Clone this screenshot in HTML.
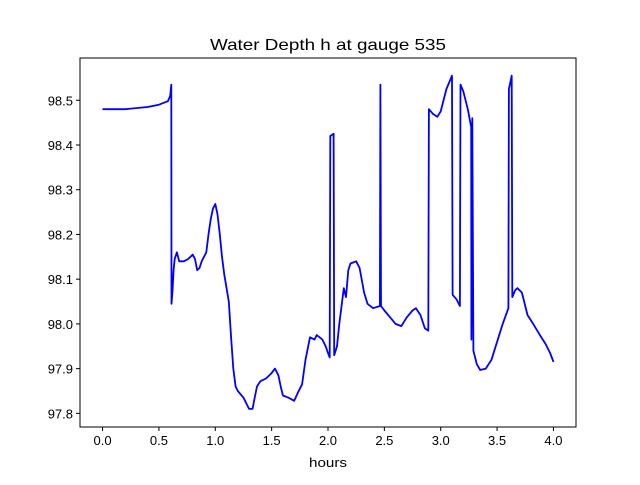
<!DOCTYPE html>
<html><head><meta charset="utf-8"><style>
body{margin:0;background:#fff}
svg text{font-family:"Liberation Sans","DejaVu Sans",sans-serif;fill:#000}
</style></head><body>
<svg id="chart" width="640" height="480" xmlns="http://www.w3.org/2000/svg">
<rect width="640" height="480" fill="#fff"/>
<text x="328" y="50" font-size="16" text-anchor="middle" textLength="236" lengthAdjust="spacingAndGlyphs">Water Depth h at gauge 535</text>
<g id="ticks"></g>
<path id="line" fill="none" stroke="#0000ff" stroke-width="1.8" stroke-linejoin="round"/>
<rect x="80" y="58" width="496" height="369" fill="none" stroke="#000" stroke-width="1"/>
<text x="328" y="467" font-size="13" text-anchor="middle" textLength="38" lengthAdjust="spacingAndGlyphs">hours</text>
</svg>
<script>
const hours=[0,0.2,0.4,0.5,0.58,0.6,0.61,0.612,0.62,0.63,0.64,0.66,0.68,0.72,0.76,0.8,0.82,0.84,0.86,0.88,0.92,0.94,0.96,0.98,1.0,1.02,1.04,1.06,1.08,1.12,1.14,1.16,1.18,1.2,1.25,1.28,1.3,1.33,1.35,1.37,1.4,1.45,1.5,1.53,1.56,1.58,1.6,1.65,1.7,1.73,1.77,1.8,1.84,1.88,1.9,1.95,1.98,2.0,2.015,2.02,2.05,2.055,2.08,2.1,2.14,2.16,2.18,2.2,2.25,2.28,2.32,2.35,2.4,2.46,2.465,2.47,2.5,2.55,2.6,2.65,2.7,2.75,2.78,2.82,2.86,2.89,2.895,2.93,2.97,3.0,3.05,3.1,3.105,3.14,3.17,3.175,3.2,3.24,3.27,3.272,3.28,3.29,3.32,3.35,3.4,3.45,3.5,3.55,3.6,3.605,3.63,3.635,3.66,3.68,3.72,3.77,3.82,3.88,3.93,3.97,4.0];
const depth=[98.48,98.48,98.485,98.49,98.498,98.51,98.535,98.045,98.07,98.12,98.145,98.16,98.14,98.14,98.145,98.155,98.145,98.12,98.125,98.14,98.16,98.2,98.235,98.258,98.268,98.245,98.2,98.15,98.11,98.05,97.97,97.9,97.86,97.85,97.835,97.82,97.81,97.81,97.835,97.86,97.872,97.878,97.89,97.9,97.885,97.86,97.84,97.835,97.828,97.845,97.865,97.92,97.97,97.965,97.975,97.965,97.95,97.935,97.925,98.42,98.425,97.93,97.95,98.0,98.08,98.06,98.12,98.135,98.14,98.125,98.07,98.045,98.035,98.04,98.535,98.04,98.03,98.015,98.0,97.995,98.015,98.03,98.035,98.02,97.99,97.985,98.48,98.47,98.463,98.475,98.525,98.555,98.065,98.055,98.04,98.535,98.52,98.48,98.44,97.965,98.46,97.94,97.91,97.897,97.9,97.92,97.96,98.0,98.035,98.525,98.555,98.06,98.075,98.08,98.07,98.02,98.0,97.975,97.955,97.935,97.915];
const xTicks=[0,0.5,1,1.5,2,2.5,3,3.5,4];
const xTickLabels=["0.0","0.5","1.0","1.5","2.0","2.5","3.0","3.5","4.0"];
const yTicks=[97.8,97.9,98.0,98.1,98.2,98.3,98.4,98.5];
const yTickLabels=["97.8","97.9","98.0","98.1","98.2","98.3","98.4","98.5"];
const L=80,R=576,T=58,B=427;
const xMin=-0.2,xMax=4.2,yMin=97.7695,yMax=98.5945;
function sx(v){return L+(v-xMin)/(xMax-xMin)*(R-L);}
function sy(v){return B-(v-yMin)/(yMax-yMin)*(B-T);}
const NS="http://www.w3.org/2000/svg";
const g=document.getElementById('ticks');
xTicks.forEach((v,i)=>{
 const l=document.createElementNS(NS,'line');
 
 
 l.setAttribute('x1',sx(v));l.setAttribute('x2',sx(v));l.setAttribute('y1',B);l.setAttribute('y2',B+4);l.setAttribute('stroke','#000');
 g.appendChild(l);
 const t=document.createElementNS(NS,'text');
 
 
 t.setAttribute('x',sx(v));t.setAttribute('y',B+18);t.setAttribute('font-size','13');t.setAttribute('text-anchor','middle');
 t.textContent=xTickLabels[i];g.appendChild(t);
});
yTicks.forEach((v,i)=>{
 const l=document.createElementNS(NS,'line');
 
 
 l.setAttribute('x1',L-4);l.setAttribute('x2',L);l.setAttribute('y1',sy(v));l.setAttribute('y2',sy(v));l.setAttribute('stroke','#000');
 g.appendChild(l);
 const t=document.createElementNS(NS,'text');
 
 
 t.setAttribute('x',L-7);t.setAttribute('y',sy(v)+5);t.setAttribute('font-size','13');t.setAttribute('text-anchor','end');
 t.textContent=yTickLabels[i];g.appendChild(t);
});
document.getElementById('line').setAttribute('d',hours.map((h,i)=>(i?'L':'M')+sx(h).toFixed(1)+' '+sy(depth[i]).toFixed(1)).join(' '));
</script>
</body></html>
